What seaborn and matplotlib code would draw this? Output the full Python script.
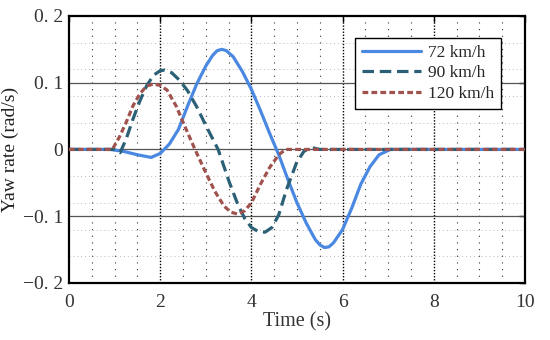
import matplotlib
matplotlib.use("Agg")
import matplotlib.pyplot as plt
import seaborn as sns
import numpy as np
import pandas as pd
from matplotlib.ticker import FixedLocator, FixedFormatter, MultipleLocator

# values
t72 = [0, 0.9, 1.2, 1.5, 1.8, 2.0, 2.2, 2.4, 2.6, 2.8, 3.0, 3.15, 3.25, 3.35,
       3.45, 3.6, 3.8, 4.0, 4.2, 4.4, 4.6, 4.8, 5.0, 5.2, 5.4, 5.5, 5.6, 5.7,
       5.8, 6.0, 6.2, 6.4, 6.6, 6.8, 7.05, 10]
v72 = [0, 0, -0.003, -0.008, -0.012, -0.006, 0.008, 0.03, 0.065, 0.098, 0.125,
       0.141, 0.148, 0.150, 0.148, 0.139, 0.117, 0.090, 0.058, 0.024, -0.008,
       -0.045, -0.08, -0.11, -0.135, -0.143, -0.147, -0.146, -0.140, -0.120,
       -0.088, -0.052, -0.026, -0.008, 0, 0]

t90 = [0, 1.0, 1.12, 1.25, 1.4, 1.55, 1.7, 1.85, 2.0, 2.1, 2.25, 2.42, 2.6, 2.8,
       3.0, 3.27, 3.52, 3.7, 3.85, 4.0, 4.15, 4.3, 4.45, 4.6, 4.77, 4.99, 5.15,
       5.3, 5.5, 10]
v90 = [0, 0, -0.005, 0.015, 0.045, 0.072, 0.095, 0.111, 0.118, 0.119, 0.115,
       0.104, 0.088, 0.064, 0.036, 0.0, -0.05, -0.082, -0.103, -0.117, -0.123,
       -0.124, -0.117, -0.098, -0.06, -0.02, -0.003, 0.003, 0, 0]

t120 = [0, 0.95, 1.1, 1.25, 1.4, 1.55, 1.7, 1.85, 2.0, 2.15, 2.35, 2.55, 2.75,
        3.0, 3.2, 3.4, 3.55, 3.7, 3.85, 4.0, 4.2, 4.4, 4.6, 4.75, 10]
v120 = [0, 0, 0.018, 0.04, 0.065, 0.083, 0.095, 0.098, 0.096, 0.089, 0.065,
        0.033, 0.002, -0.035, -0.063, -0.085, -0.094, -0.097, -0.092, -0.08,
        -0.052, -0.027, -0.008, 0, 0]

speeds = ["72 km/h", "90 km/h", "120 km/h"]
colors = ["#4a88e2", "#2b6076", "#a0524d"]

yticks = [-0.2, -0.1, 0, 0.1, 0.2]
ytick_labels = ["\u22120. 2", "\u22120. 1", "0", "0. 1", "0. 2"]
xticks = [0, 2, 4, 6, 8, 10]

df = pd.concat([
    pd.DataFrame({"t": t72, "r": v72, "speed": speeds[0]}),
    pd.DataFrame({"t": t90, "r": v90, "speed": speeds[1]}),
    pd.DataFrame({"t": t120, "r": v120, "speed": speeds[2]}),
])

sns.set_style("white")
plt.rcParams["font.family"] = ["Liberation Serif", "DejaVu Serif"]

fig = plt.figure(figsize=(5.5, 3.4), dpi=100)
ax = fig.add_axes([0.1255, 0.168, 0.829, 0.785])

# grid
ax.set_xlim(0, 10)
ax.set_ylim(-0.2, 0.2)
for x in np.arange(0.5, 10, 0.5):
    if x % 2 == 0:
        ax.axvline(x, color="black", lw=1.0, ls=(0, (1, 1.2)), zorder=1)
    else:
        ax.axvline(x, color="#333333", lw=0.8, ls=(0, (1, 5)), zorder=1)
for y in [-0.16, -0.12, -0.08, -0.04, 0.04, 0.08, 0.12, 0.16]:
    ax.axhline(y, color="#bbbbbb", lw=0.7, ls=(0, (1, 3)), zorder=1)
for y in [-0.1, 0, 0.1]:
    ax.axhline(y, color="#555555", lw=0.9, zorder=1)

sns.lineplot(
    data=df, x="t", y="r", hue="speed", style="speed",
    hue_order=speeds, style_order=speeds, palette=colors,
    dashes={speeds[0]: "", speeds[1]: (3.6, 1.8), speeds[2]: (1.8, 1.0)},
    linewidth=2.3, sort=False, estimator=None, ax=ax, zorder=3,
)

handles, labels = ax.get_legend_handles_labels()
ax.legend(handles, labels, loc="upper right", bbox_to_anchor=(0.947, 0.918),
          fontsize=12.5, frameon=True, fancybox=False, edgecolor="black",
          framealpha=1, handlelength=3.4, handletextpad=0.4, borderpad=0.4,
          labelspacing=0.25, borderaxespad=0)
ax.get_legend().get_frame().set_linewidth(1.0)

ax.xaxis.set_major_locator(FixedLocator(xticks))
ax.yaxis.set_major_locator(FixedLocator(yticks))
ax.yaxis.set_major_formatter(FixedFormatter(ytick_labels))
ax.xaxis.set_minor_locator(MultipleLocator(0.5))
ax.tick_params(axis="both", which="major", direction="in", length=4, width=1,
               top=True, right=True, labelsize=14, colors="black")
ax.tick_params(axis="x", which="major", pad=8)
ax.tick_params(axis="y", which="major", pad=4)
ax.tick_params(axis="both", which="minor", length=0)
for lab in ax.get_xticklabels() + ax.get_yticklabels():
    lab.set_color("#333333")

for s in ax.spines.values():
    s.set_visible(True)
    s.set_color("black")
    s.set_linewidth(1.6)

ax.set_xlabel("Time (s)", fontsize=14.5, color="#333333", labelpad=1)
ax.set_ylabel("Yaw rate (rad/s)", fontsize=14, color="#222222", labelpad=3)

fig.savefig("out.png", dpi=100)
